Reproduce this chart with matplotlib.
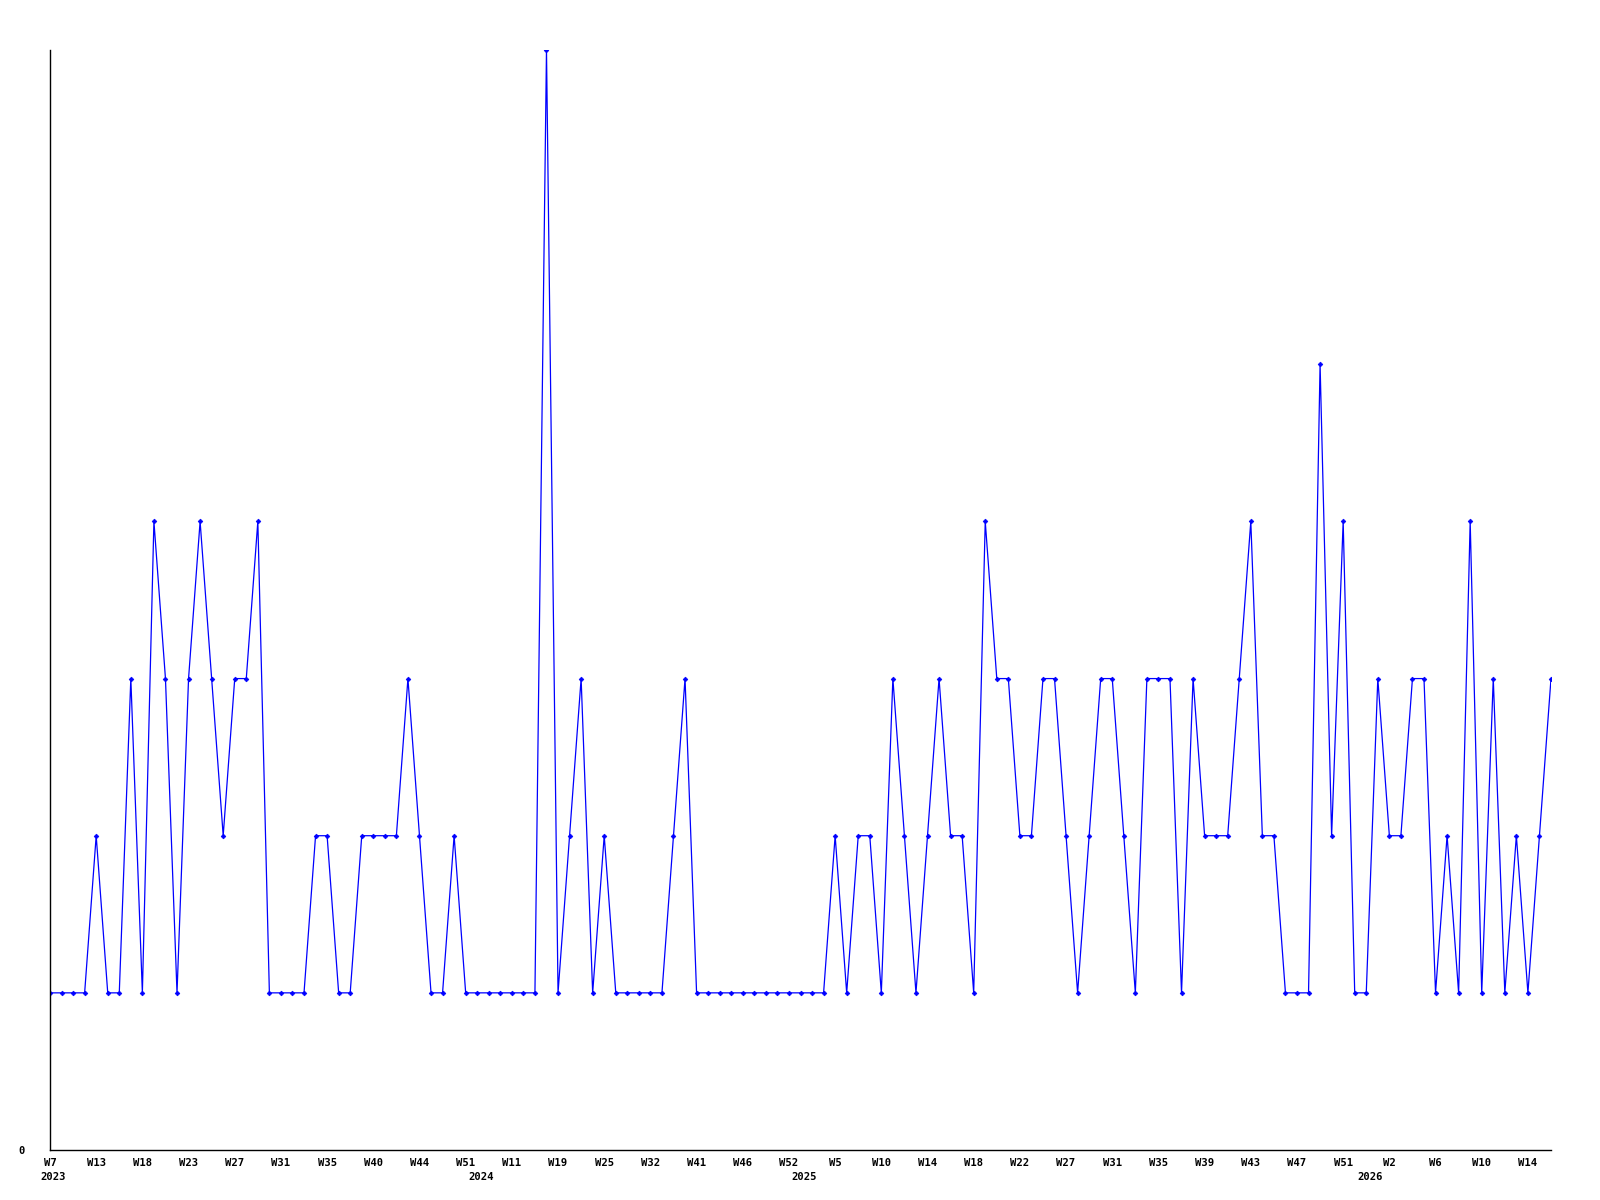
import matplotlib
matplotlib.use("Agg")
import matplotlib.pyplot as plt

# weekly counts, one value per sample
values = [
    1, 1, 1, 1, 2, 1, 1, 3, 1, 4, 3, 1, 3, 4, 3, 2, 3, 3, 4, 1, 1, 1,
    1, 2, 2, 1, 1, 2, 2, 2, 2, 3, 2, 1, 1, 2, 1, 1, 1, 1, 1, 1, 1,
    7,
    1, 2, 3, 1, 2, 1, 1, 1, 1, 1, 2, 3, 1, 1, 1, 1, 1, 1, 1, 1, 1, 1,
    1, 1, 2, 1, 2, 2, 1, 3, 2, 1, 2, 3, 2, 2, 1, 4, 3, 3, 2, 2, 3,
    3, 2, 1, 2, 3, 3, 2, 1, 3, 3, 3, 1, 3, 2, 2, 2, 3, 4, 2, 2, 1, 1,
    1, 5, 2, 4, 1, 1, 3, 2, 2, 3, 3, 1, 2, 1, 4, 1, 3, 1, 2, 1, 2, 3,
]

week_labels = [
    "W7", "W13", "W18", "W23", "W27", "W31", "W35", "W40", "W44", "W51",
    "W11", "W19", "W25", "W32", "W41", "W46", "W52", "W5", "W10", "W14",
    "W18", "W22", "W27", "W31", "W35", "W39", "W43", "W47", "W51", "W2",
    "W6", "W10", "W14",
]
week_step = 4

years = ["2023", "2024", "2025", "2026"]
year_idx = [0, 37, 65, 114]

mono = "DejaVu Sans Mono"

fig = plt.figure(figsize=(16, 12), dpi=100)
ax = fig.add_axes([50 / 1600, 50 / 1200, 1501 / 1600, 1100 / 1200])

x = list(range(len(values)))
ax.plot(x, values, color="#0000ff", linewidth=0.9,
        marker="D", markersize=2.4, markeredgewidth=0.5)

ax.set_xlim(0, len(values) - 1)
ax.set_ylim(0, 7)

for side in ["top", "right"]:
    ax.spines[side].set_visible(False)
for side in ["left", "bottom"]:
    ax.spines[side].set_color("black")
    ax.spines[side].set_linewidth(1)

ticks = [i * week_step for i in range(len(week_labels))]
ax.set_xticks(ticks, week_labels)
ax.set_yticks([0], ["0"])
ax.tick_params(axis="x", length=0, pad=6)
ax.tick_params(axis="y", length=0, pad=18)
for lab in ax.get_xticklabels() + ax.get_yticklabels():
    lab.set_fontfamily(mono)
    lab.set_fontweight("bold")
    lab.set_fontsize(7.6)

for yr, idx in zip(years, year_idx):
    ax.text(idx + 0.3, -0.0245, yr, transform=ax.get_xaxis_transform(),
            ha="center", va="center", fontfamily=mono, fontweight="bold",
            fontsize=7.6)

fig.savefig("out.png", dpi=100, facecolor="white")
